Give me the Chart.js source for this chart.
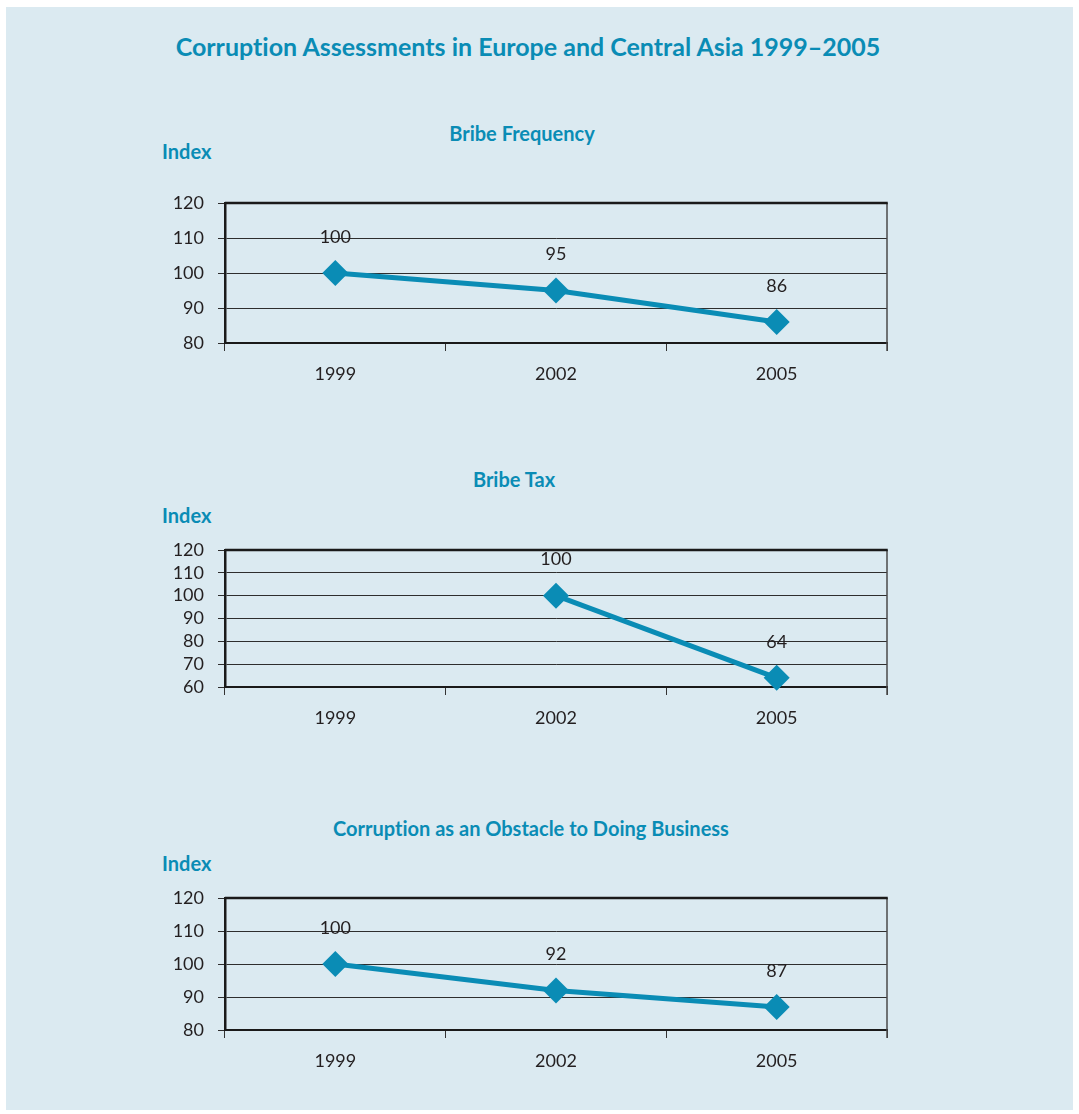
<!DOCTYPE html>
<html>
<head>
<meta charset="utf-8">
<title>Corruption Assessments in Europe and Central Asia 1999–2005</title>
<script src="https://cdn.jsdelivr.net/npm/chart.js@4/dist/chart.umd.min.js"></script>
<style>
  html, body { margin: 0; padding: 0; background: #ffffff; }
  body { width: 1079px; height: 1114px; position: relative; overflow: hidden; }
  #panel { position: absolute; left: 6px; top: 7px; width: 1067px; height: 1103px; background: #dbeaf1; }
  .txt { position: absolute; font-family: Lato, "Open Sans", sans-serif; font-weight: 700; color: #0a8cb5; white-space: nowrap; line-height: 1; font-variant-ligatures: none; }
  .center { transform: translateX(-50%); }
  .box { position: absolute; left: 140px; width: 820px; }
  .box canvas { display: block; }
</style>
</head>
<body>
<div id="panel"></div>
<div class="txt center" style="left:528px; top:34px; font-size:25px;">Corruption Assessments in Europe and Central Asia 1999–2005</div>

<div class="txt center" style="left:522px; top:123px; font-size:20px;">Bribe Frequency</div>
<div class="txt" style="left:162px; top:141px; font-size:20px;">Index</div>
<div class="box" style="top:180px; height:220px;"><canvas id="c1" width="820" height="220"></canvas></div>

<div class="txt center" style="left:514px; top:469px; font-size:20px;">Bribe Tax</div>
<div class="txt" style="left:162px; top:505px; font-size:20px;">Index</div>
<div class="box" style="top:527px; height:217px;"><canvas id="c2" width="820" height="217"></canvas></div>

<div class="txt center" style="left:531px; top:818px; font-size:20px;">Corruption as an Obstacle to Doing Business</div>
<div class="txt" style="left:162px; top:853px; font-size:20px;">Index</div>
<div class="box" style="top:875px; height:212px;"><canvas id="c3" width="820" height="212"></canvas></div>

<script>
// Survey years shared by all three panels
const years = ['1999', '2002', '2005'];

// Index values per panel (1999 = 100, Bribe Tax starts in 2002 = 100)
const bribeFrequency = [100, 95, 86];
const bribeTax = [null, 100, 64];
const obstacleToBusiness = [100, 92, 87];

// Value-axis ranges per panel
const frequencyAxis = { min: 80, max: 120, step: 10 };
const taxAxis = { min: 60, max: 120, step: 10 };
const obstacleAxis = { min: 80, max: 120, step: 10 };

const TEAL = '#0a8cb5';
const INK = '#231f20';
const FONT = 'Lato, "Open Sans", sans-serif';

// Value labels above each marker, plus the top and right frame lines
const frameAndLabels = {
  id: 'frameAndLabels',
  afterDraw(chart) {
    const { ctx, chartArea: a } = chart;
    ctx.save();
    // right border
    ctx.strokeStyle = '#4a4a4a';
    ctx.lineWidth = 1.5;
    ctx.beginPath();
    ctx.moveTo(a.right, a.top);
    ctx.lineTo(a.right, a.bottom + 8);
    ctx.stroke();
    // heavy top border
    ctx.strokeStyle = '#1a1a1a';
    ctx.lineWidth = 2.5;
    ctx.beginPath();
    ctx.moveTo(a.left, a.top);
    ctx.lineTo(a.right + 0.75, a.top);
    ctx.stroke();
    // value labels
    ctx.fillStyle = INK;
    ctx.font = '18px ' + FONT;
    ctx.textAlign = 'center';
    ctx.textBaseline = 'middle';
    const meta = chart.getDatasetMeta(0);
    const data = chart.data.datasets[0].data;
    meta.data.forEach((pt, i) => {
      if (data[i] === null || data[i] === undefined) return;
      ctx.fillText(String(data[i]), pt.x, pt.y - 36);
    });
    ctx.restore();
  }
};

function makeChart(id, values, axis) {
  return new Chart(document.getElementById(id), {
    type: 'line',
    data: {
      labels: years,
      datasets: [{
        data: values,
        borderColor: TEAL,
        backgroundColor: TEAL,
        borderWidth: 5,
        pointStyle: 'rectRot',
        pointRadius: 13,
        pointHoverRadius: 13,
        pointBackgroundColor: TEAL,
        pointBorderColor: TEAL,
        pointBorderWidth: 0,
        tension: 0,
        clip: false
      }]
    },
    options: {
      responsive: false,
      animation: false,
      events: [],
      layout: { padding: { top: 20, right: 73, left: 0, bottom: 0 } },
      plugins: { legend: { display: false }, tooltip: { enabled: false }, title: { display: false } },
      scales: {
        x: {
          type: 'category',
          offset: true,
          grid: {
            offset: true,
            drawOnChartArea: false,
            drawTicks: true,
            tickLength: 8,
            color: '#333333',
            lineWidth: 1
          },
          border: { display: true, color: '#1a1a1a', width: 2 },
          ticks: { color: INK, font: { family: FONT, size: 18 }, padding: 12, maxRotation: 0 },
          afterFit(s) { s.height = 57; }
        },
        y: {
          min: axis.min,
          max: axis.max,
          grid: {
            color: '#2e2e2e',
            lineWidth: 1,
            tickLength: 7,
            drawTicks: true
          },
          border: { display: true, color: '#1a1a1a', width: 2.5 },
          ticks: {
            stepSize: axis.step,
            autoSkip: false,
            maxTicksLimit: 20,
            color: INK,
            font: { family: FONT, size: 18, lineHeight: 1 },
            padding: 14
          },
          afterFit(s) { s.width = 85; }
        }
      }
    },
    plugins: [frameAndLabels]
  });
}

makeChart('c1', bribeFrequency, frequencyAxis);
makeChart('c2', bribeTax, taxAxis);
makeChart('c3', obstacleToBusiness, obstacleAxis);
</script>
</body>
</html>
